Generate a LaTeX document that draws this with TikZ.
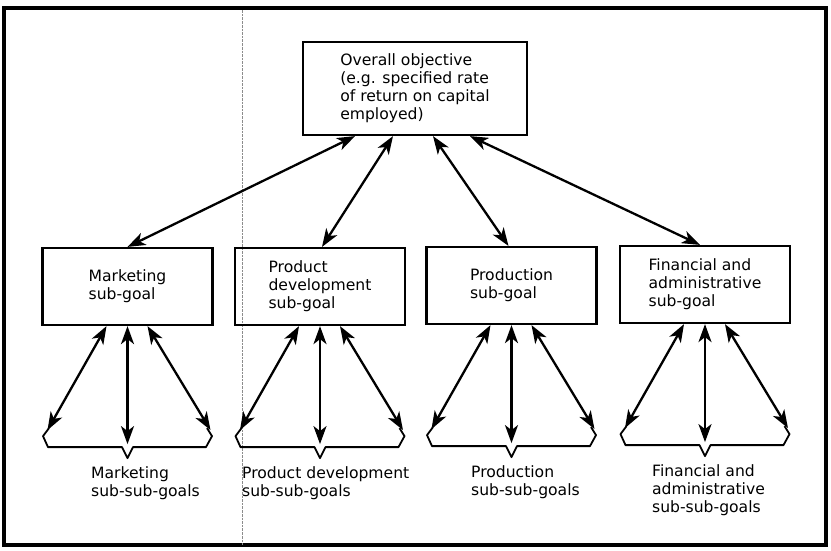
\documentclass[tikz,border=0pt]{standalone}
\usepackage{fontspec}
\setmainfont{DejaVu Sans}
\usetikzlibrary{arrows.meta}
\tikzset{%
  goal box/.style={
    rectangle,
    draw,
    line width=2.2pt,
    align=left,
    minimum width=170pt,
    minimum height=77pt
  },
  sub label/.style={
    anchor=north west,
    inner sep=0pt,
    align=left
  },
}

\begin{document}
\begin{tikzpicture}[x=1pt, y=-1pt, line width=2.3pt,
    >={Stealth[length=18pt,width=13pt,inset=5pt]},
    font=\fontsize{15.6}{18}\selectfont]
  \useasboundingbox (0,0) rectangle (831,550);
  \draw [line width=3.2pt] (4,8) rectangle (826,545);
  \draw [densely dash dot, line width=0.4pt, black!45] (242,10) -- (242,545);

  \node [goal box, minimum width=224pt, minimum height=93pt] (objective) at (415,88.5)
    {Overall objective\\(e.g. specified rate\\of return on capital\\employed)};

  \foreach \n/\x/\y/\t in {mkt/127.5/286.5/{Marketing\\sub-goal},
      pd/320/286.5/{Product\\development\\sub-goal},
      pr/511.5/285.5/{Production\\sub-goal},
      fa/705/284.5/{Financial and\\administrative\\sub-goal}}
    \node [goal box] (\n) at (\x,\y) {\t};

  \foreach \n/\s/\e in {mkt/-60/0, pd/-22/2, pr/18/-3, fa/55/-5}
    \draw [<->] ([xshift=\s pt]objective.south) -- ([xshift=\e pt]\n.north);

  \foreach \n in {mkt,pd,pr,fa} {
    \path (\n.south) ++(-80,104) coordinate (\n-l)
          (\n.south) ++(0,118) coordinate (\n-m)
          (\n.south) ++(83,104) coordinate (\n-r);
    \draw [<->] ([xshift=-21pt]\n.south) -- (\n-l);
    \draw [<->] (\n.south) -- (\n-m);
    \draw [<->] ([xshift=20pt]\n.south) -- (\n-r);
    \draw [line width=1.8pt, line join=round] (\n.south) ++(-78.5,102) -- ++(-6,8) -- ++(5,11)
      -- ++(74,0) -- ++(5.5,11) -- ++(5.5,-11) -- ++(73,0) -- ++(6,-11) -- ++(-5,-8);
  }

  \node [sub label] (mkt-label) at (90,465) {Marketing\\sub-sub-goals};
  \node [sub label] (pd-label) at (241,465) {Product development\\sub-sub-goals};
  \node [sub label] (pr-label) at (470,464) {Production\\sub-sub-goals};
  \node [sub label] (fa-label) at (651,463) {Financial and\\administrative\\sub-sub-goals};
\end{tikzpicture}
\end{document}
